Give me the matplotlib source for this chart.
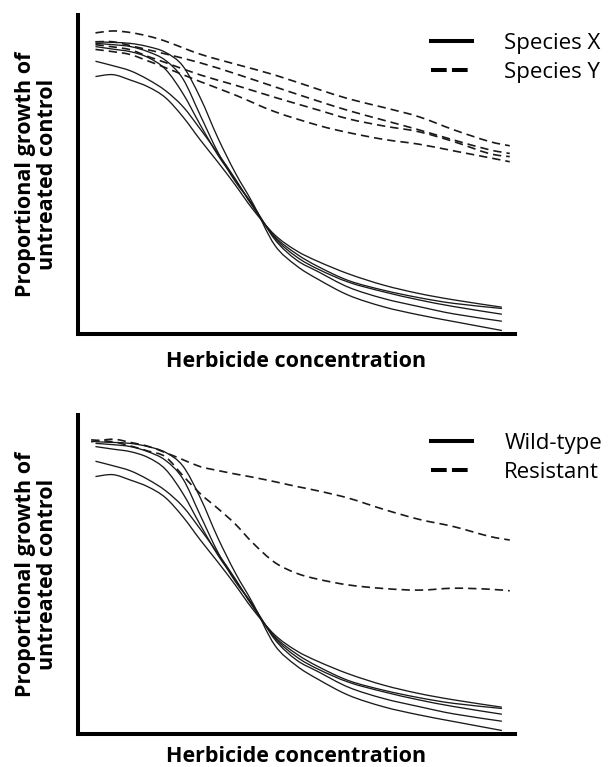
import matplotlib
matplotlib.use('Agg')
import matplotlib.pyplot as plt
from matplotlib.lines import Line2D
from matplotlib.path import Path
from matplotlib.patches import PathPatch

plt.rcParams['font.family'] = ['Open Sans', 'DejaVu Sans']

# herbicide concentration (arbitrary units, axis runs 0-100)
conc_solid = [4, 8, 12, 16, 20, 24, 28, 32, 36, 40, 45, 50, 55, 62, 70, 78, 86, 97]
# proportional growth (% of untreated control), five wild-type / species X lines
solid_1 = [80.7, 81.3, 79.6, 77.5, 74.1, 68.1, 60.8, 53.9, 46.7, 39.1, 31.1, 26.1, 22.7, 18.8, 15.3, 12.7, 10.7, 8.4]
solid_2 = [85.5, 84.1, 82.5, 79.8, 76.3, 71.3, 64.2, 56.6, 48.6, 39.9, 30.6, 25.1, 21.1, 16.7, 13.7, 11.4, 9.6, 8.0]
solid_3 = [90.1, 89.3, 88.5, 86.7, 83.0, 75.4, 65.5, 56.1, 48.3, 40.2, 30.2, 24.2, 20.3, 16.2, 13.2, 10.7, 8.6, 6.2]
solid_4 = [91.1, 90.7, 90.1, 88.5, 85.8, 80.0, 68.5, 57.0, 47.8, 40.5, 29.7, 23.2, 19.5, 14.6, 11.1, 8.6, 6.3, 4.0]
solid_5 = [91.6, 91.4, 91.1, 90.1, 88.3, 84.0, 74.0, 61.5, 50.5, 41.0, 27.9, 21.4, 17.1, 12.1, 8.5, 6.0, 3.9, 1.1]
solid_lines = [solid_1, solid_2, solid_3, solid_4, solid_5]

# species Y (top panel), four dashed lines
conc_dash = [4, 8, 12, 16, 20, 28, 36, 45, 55, 62, 70, 78, 86, 94, 98.8]
dash_1 = [94.4, 95.0, 94.5, 93.4, 91.8, 87.7, 84.6, 81.2, 76.7, 73.7, 71.0, 68.1, 64.0, 60.4, 59.0]
dash_2 = [91.6, 91.6, 90.4, 89.1, 87.8, 85.0, 81.6, 77.5, 73.0, 70.0, 67.0, 64.0, 60.8, 57.8, 56.6]
dash_3 = [90.7, 90.0, 89.1, 87.0, 85.1, 81.2, 78.0, 74.2, 70.2, 67.4, 65.2, 63.4, 60.3, 56.6, 55.6]
dash_4 = [89.2, 88.5, 87.6, 85.6, 83.5, 79.1, 74.9, 69.7, 65.4, 63.1, 61.0, 59.5, 57.4, 55.3, 54.0]
species_y = [dash_1, dash_2, dash_3, dash_4]

# resistant (bottom panel), two dashed lines
conc_res = [3, 8, 12, 16, 20, 24, 28, 32, 36, 40, 45, 50, 55, 62, 70, 78, 86, 94, 98.8]
res_1 = [91.6, 92.4, 91.4, 90.2, 88.2, 86.0, 83.8, 82.6, 81.5, 80.5, 79.1, 77.6, 76.2, 73.9, 70.4, 67.3, 65.0, 62.0, 60.8]
res_2 = [92.2, 91.6, 90.3, 88.7, 86.9, 81.0, 75.3, 70.7, 65.8, 59.9, 53.8, 50.4, 48.5, 46.7, 45.6, 45.1, 45.7, 45.4, 44.9]
resistant = [res_1, res_2]

panels = [
    (species_y, conc_dash, ['Species X', 'Species Y'], 12),
    (resistant, conc_res, ['Wild-type', 'Resistant'], 9),
]

ink = '#1a1a1a'
dash_style = (0, (5, 3))


def smooth_curve(ax, xs, ys, **kw):
    # catmull-rom through the read points, drawn as bezier segments
    pts = list(zip(xs, ys))
    pts = [pts[0]] + pts + [pts[-1]]
    verts = [pts[1]]
    codes = [Path.MOVETO]
    for i in range(1, len(pts) - 2):
        p0, p1, p2, p3 = pts[i - 1], pts[i], pts[i + 1], pts[i + 2]
        c1 = (p1[0] + (p2[0] - p0[0]) / 6, p1[1] + (p2[1] - p0[1]) / 6)
        c2 = (p2[0] - (p3[0] - p1[0]) / 6, p2[1] - (p3[1] - p1[1]) / 6)
        verts += [c1, c2, p2]
        codes += [Path.CURVE4] * 3
    ax.add_patch(PathPatch(Path(verts, codes), fill=False, **kw))


fig = plt.figure(figsize=(6.15, 7.67), dpi=100)
ax_top = fig.add_axes([78/615, 1-334/767, 437/615, 319/767])
ax_bot = fig.add_axes([78/615, 1-734/767, 437/615, 319/767])

for ax, (dashed, xd, labels, xpad) in zip([ax_top, ax_bot], panels):
    for y in solid_lines:
        smooth_curve(ax, conc_solid, y, edgecolor=ink, lw=0.95)
    for y in dashed:
        smooth_curve(ax, xd, y, edgecolor=ink, lw=1.2, linestyle=dash_style)
    ax.set_xlim(0, 100)
    ax.set_ylim(0, 100)
    ax.set_xticks([])
    ax.set_yticks([])
    for s in ['top', 'right']:
        ax.spines[s].set_visible(False)
    for s in ['left', 'bottom']:
        ax.spines[s].set_linewidth(2.9)
        ax.spines[s].set_color('black')
    ax.set_xlabel('Herbicide concentration', fontsize=15.5, fontweight='bold', labelpad=xpad)
    ax.set_ylabel('Proportional growth of\nuntreated control', fontsize=15.5,
                  fontweight='bold', linespacing=1.1)
    ax.yaxis.set_label_coords(-0.045, 0.5)

    handles = [Line2D([], [], color='black', lw=2.9),
               Line2D([], [], color='black', lw=2.9, linestyle=(0, (3.9, 1.3)))]
    ax.legend(handles, labels, loc='upper left', frameon=False, fontsize=16,
              bbox_to_anchor=(431/615, ax.get_position().y1 - 18/767),
              bbox_transform=fig.transFigure, borderpad=0, borderaxespad=0,
              handlelength=1.85, handletextpad=1.45, labelspacing=0.35)

fig.savefig('out.png', dpi=100)
